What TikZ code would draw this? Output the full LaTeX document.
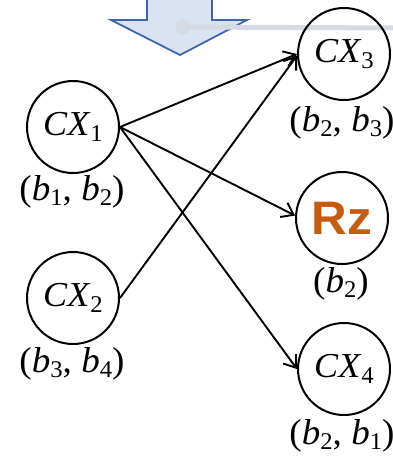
\documentclass[tikz,border=0pt]{standalone}
\usepackage{fontspec}
\usepackage{graphicx}
\setmainfont{Liberation Serif}
\newfontfamily\rzfont{Liberation Sans}
\usetikzlibrary{arrows.meta}
\definecolor{arrfill}{HTML}{DAE3F3}
\definecolor{arrdraw}{HTML}{3E64AD}
\definecolor{graybar}{HTML}{D6DBE3}
\definecolor{rzorange}{HTML}{C55A11}
\newcommand\hs[1]{\scalebox{1.03}[1]{#1}}
\newcommand\csub[1]{\raisebox{-0.15em}{\fontsize{24}{24}\selectfont #1}}
\newcommand\lsub[1]{\raisebox{-0.14em}{\fontsize{24}{24}\selectfont #1}}
\tikzset{
  gate/.style={circle, draw, line width=2pt, minimum size=92pt, inner sep=0pt,
    font=\fontsize{35}{38}\selectfont},
  lbl/.style={inner sep=0pt, font=\fontsize{36}{38}\selectfont},
  edge/.style={line width=1.9pt, -{Straight Barb[length=11pt,width=16pt,line width=1.9pt]}}
}
\begin{document}
\begin{tikzpicture}[x=1pt,y=-1pt]
\useasboundingbox (0,0) rectangle (393,458);
\clip (0,0) rectangle (393,458);
% block arrow
\draw[fill=arrfill, draw=arrdraw, line width=1.8pt]
  (147,-5) -- (212,-5) -- (212,20) -- (247,20) -- (180,55) -- (111,20) -- (147,20) -- cycle;
% gray bar
\coordinate (gstart) at (183,27);
\coordinate (gend) at (400,28);
\draw[graybar, line width=5pt] (gstart) -- (gend);
\fill[graybar] (gstart) circle (7.5);
% gates
\node[gate] (cx1) at (73,127) {\hs{\textit{CX}\csub{1}}};
\node[gate] (cx2) at (73,298) {\hs{\textit{CX}\csub{2}}};
\node[gate] (cx3) at (344,54) {\hs{\textit{CX}\csub{3}}};
\node[gate] (rz) at (342,218) {\scalebox{1.05}[1]{\fontsize{47}{48}\selectfont\rzfont\bfseries\color{rzorange}Rz}};
\node[gate] (cx4) at (344,369) {\hs{\textit{CX}\csub{4}}};
% labels
\node[lbl] (l1) at (72,192) {\hs{(\textit{b}\lsub{1}, \textit{b}\lsub{2})}};
\node[lbl] (l2) at (72,364) {\hs{(\textit{b}\lsub{3}, \textit{b}\lsub{4})}};
\node[lbl] (l3) at (342,123) {\hs{(\textit{b}\lsub{2}, \textit{b}\lsub{3})}};
\node[lbl] (l4) at (341,284) {\hs{(\textit{b}\lsub{2})}};
\node[lbl] (l5) at (342,436) {\hs{(\textit{b}\lsub{2}, \textit{b}\lsub{1})}};
% edges
\draw[edge] (cx1.east) -- (cx3.west);
\draw[edge] (cx2.east) -- (cx3.182);
\draw[edge] (cx1.east) -- (rz.177);
\draw[edge] (cx1.east) -- (cx4.west);
\end{tikzpicture}
\end{document}
